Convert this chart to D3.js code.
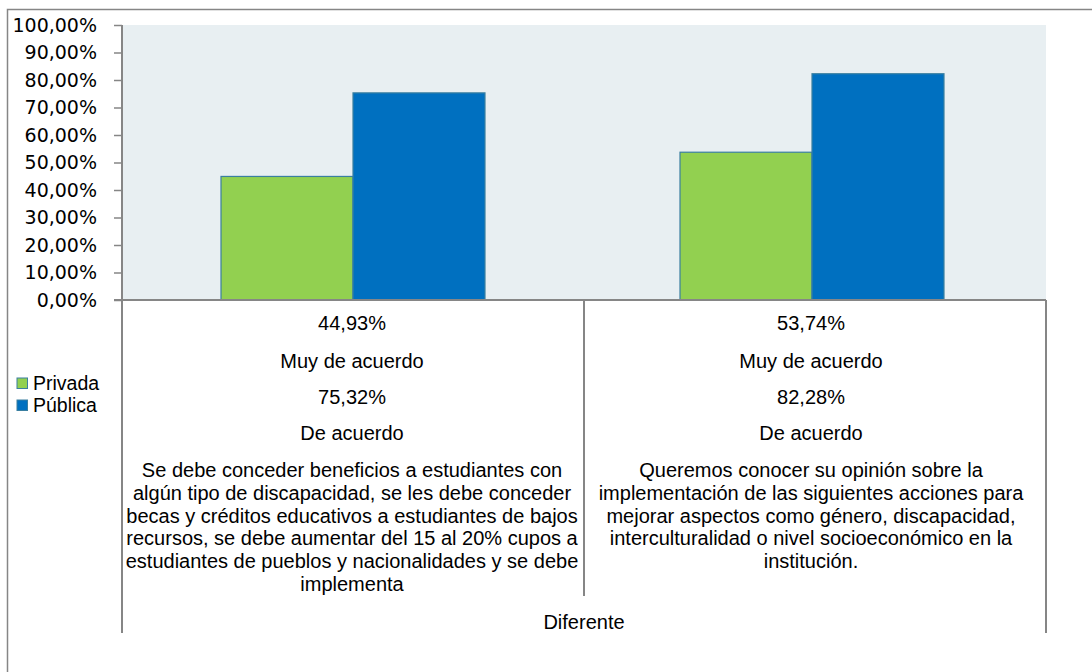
<!DOCTYPE html>
<html>
<head>
<meta charset="utf-8">
<script src="https://cdn.jsdelivr.net/npm/d3@7"></script>
<style>
  body { margin: 0; background: #fff; }
  text { font-family: "Liberation Sans", Arial, sans-serif; fill: #000; }
  .ytick text { font-family: "DejaVu Sans", sans-serif; }
</style>
</head>
<body>
<script>
// Data
var series = ["Privada", "Pública"];
var privada = [0.4493, 0.5374];
var publica = [0.7532, 0.8228];
var level1 = ["Muy de acuerdo", "De acuerdo"];
var categories = [
  ["Se debe conceder beneficios a estudiantes con",
   "algún tipo de discapacidad, se les debe conceder",
   "becas y créditos educativos a estudiantes de bajos",
   "recursos, se debe aumentar del 15 al 20% cupos a",
   "estudiantes de pueblos y nacionalidades y se debe",
   "implementa"],
  ["Queremos conocer su opinión sobre la",
   "implementación de las siguientes acciones para",
   "mejorar aspectos como género, discapacidad,",
   "interculturalidad o nivel socioeconómico en la",
   "institución."]
];
var group = "Diferente";
var yTicks = [0, 0.1, 0.2, 0.3, 0.4, 0.5, 0.6, 0.7, 0.8, 0.9, 1];
var colors = ["#92D050", "#0070C0"];

var W = 1092, H = 672;
var plot = {left: 122, right: 1046, top: 25, bottom: 300};
var gray = "#868686";

var locale = d3.formatLocale({decimal: ",", thousands: ".", grouping: [3], currency: ["", ""]});
var pct = locale.format(".2%");

var svg = d3.select("body").append("svg")
  .attr("width", W).attr("height", H);

// outer frame
svg.append("rect")
  .attr("x", 7.5).attr("y", 9.5)
  .attr("width", W + 20).attr("height", H + 20)
  .attr("fill", "none").attr("stroke", gray).attr("stroke-width", 1.5);

var x0 = d3.scaleBand()
  .domain(d3.range(categories.length))
  .range([plot.left, plot.right]);

var x1 = d3.scaleBand()
  .domain(series)
  .range([0, x0.bandwidth()])
  .paddingOuter(0.75);

var y = d3.scaleLinear().domain([0, 1]).range([plot.bottom, plot.top]);

// plot background
svg.append("rect")
  .attr("x", plot.left).attr("y", plot.top)
  .attr("width", plot.right - plot.left).attr("height", plot.bottom - plot.top)
  .attr("fill", "#E8EFF2");

// bars
var groups = svg.selectAll(".grp")
  .data(d3.range(categories.length))
  .enter().append("g")
  .attr("class", "grp")
  .attr("transform", function(i) { return "translate(" + (x0(i) - i * 3) + ",0)"; });

groups.selectAll("rect")
  .data(function(i) { return [privada[i], publica[i]].map(function(v, k) { return {s: series[k], v: v, k: k}; }); })
  .enter().append("rect")
  .attr("x", function(d) { return x1(d.s); })
  .attr("y", function(d) { return y(d.v); })
  .attr("width", x1.bandwidth())
  .attr("height", function(d) { return y(0) - y(d.v); })
  .attr("fill", function(d) { return colors[d.k]; })
  .attr("stroke", "#3A7FA0")
  .attr("stroke-width", 1.2);

// y axis
var yAxis = d3.axisLeft(y)
  .tickValues(yTicks)
  .tickSize(8)
  .tickPadding(17)
  .tickFormat(pct);

var ya = svg.append("g")
  .attr("class", "ytick")
  .attr("transform", "translate(" + plot.left + ",0)")
  .call(yAxis);
ya.select(".domain").remove();
ya.selectAll("line").attr("stroke", gray).attr("stroke-width", 1.5);
ya.selectAll("text").attr("font-size", 19).attr("fill", "#000");

svg.append("line")
  .attr("x1", plot.left).attr("x2", plot.left)
  .attr("y1", plot.top).attr("y2", 633)
  .attr("stroke", gray).attr("stroke-width", 2);

// x axis line
svg.append("line")
  .attr("x1", plot.left - 8).attr("x2", plot.right)
  .attr("y1", plot.bottom).attr("y2", plot.bottom)
  .attr("stroke", gray).attr("stroke-width", 2);

// category separators
svg.append("line")
  .attr("x1", x0(1)).attr("x2", x0(1))
  .attr("y1", plot.bottom).attr("y2", 596)
  .attr("stroke", gray).attr("stroke-width", 2);
svg.append("line")
  .attr("x1", plot.right).attr("x2", plot.right)
  .attr("y1", plot.bottom).attr("y2", 633)
  .attr("stroke", gray).attr("stroke-width", 2);

// category labels
var rowY = [323, 360.5, 397, 433];
var lab = svg.selectAll(".lab")
  .data(d3.range(categories.length))
  .enter().append("g")
  .attr("class", "lab")
  .attr("transform", function(i) { return "translate(" + (x0(i) + x0.bandwidth() / 2 - 1 - i * 3) + ",0)"; });

lab.each(function(i) {
  var g = d3.select(this);
  var rows = [pct(privada[i]), level1[0], pct(publica[i]), level1[1]];
  rows.forEach(function(t, r) {
    g.append("text")
      .attr("y", rowY[r]).attr("dy", "0.35em")
      .attr("text-anchor", "middle")
      .attr("font-size", 20)
      .text(t);
  });
  categories[i].forEach(function(t, r) {
    g.append("text")
      .attr("y", 470 + r * 22.8).attr("dy", "0.35em")
      .attr("text-anchor", "middle")
      .attr("font-size", 20)
      .text(t);
  });
});

svg.append("text")
  .attr("x", (plot.left + plot.right) / 2)
  .attr("y", 621.5).attr("dy", "0.35em")
  .attr("text-anchor", "middle")
  .attr("font-size", 20)
  .text(group);

// legend
var leg = svg.selectAll(".leg")
  .data(series)
  .enter().append("g")
  .attr("class", "leg")
  .attr("transform", function(d, i) { return "translate(17," + (378 + i * 22) + ")"; });

leg.append("rect")
  .attr("width", 10.5).attr("height", 10.5)
  .attr("fill", function(d, i) { return colors[i]; })
  .attr("stroke", "#3A7FA0").attr("stroke-width", 1);

leg.append("text")
  .attr("x", 16).attr("y", 5.5).attr("dy", "0.35em")
  .attr("font-size", 19.5)
  .text(function(d) { return d; });
</script>
</body>
</html>
